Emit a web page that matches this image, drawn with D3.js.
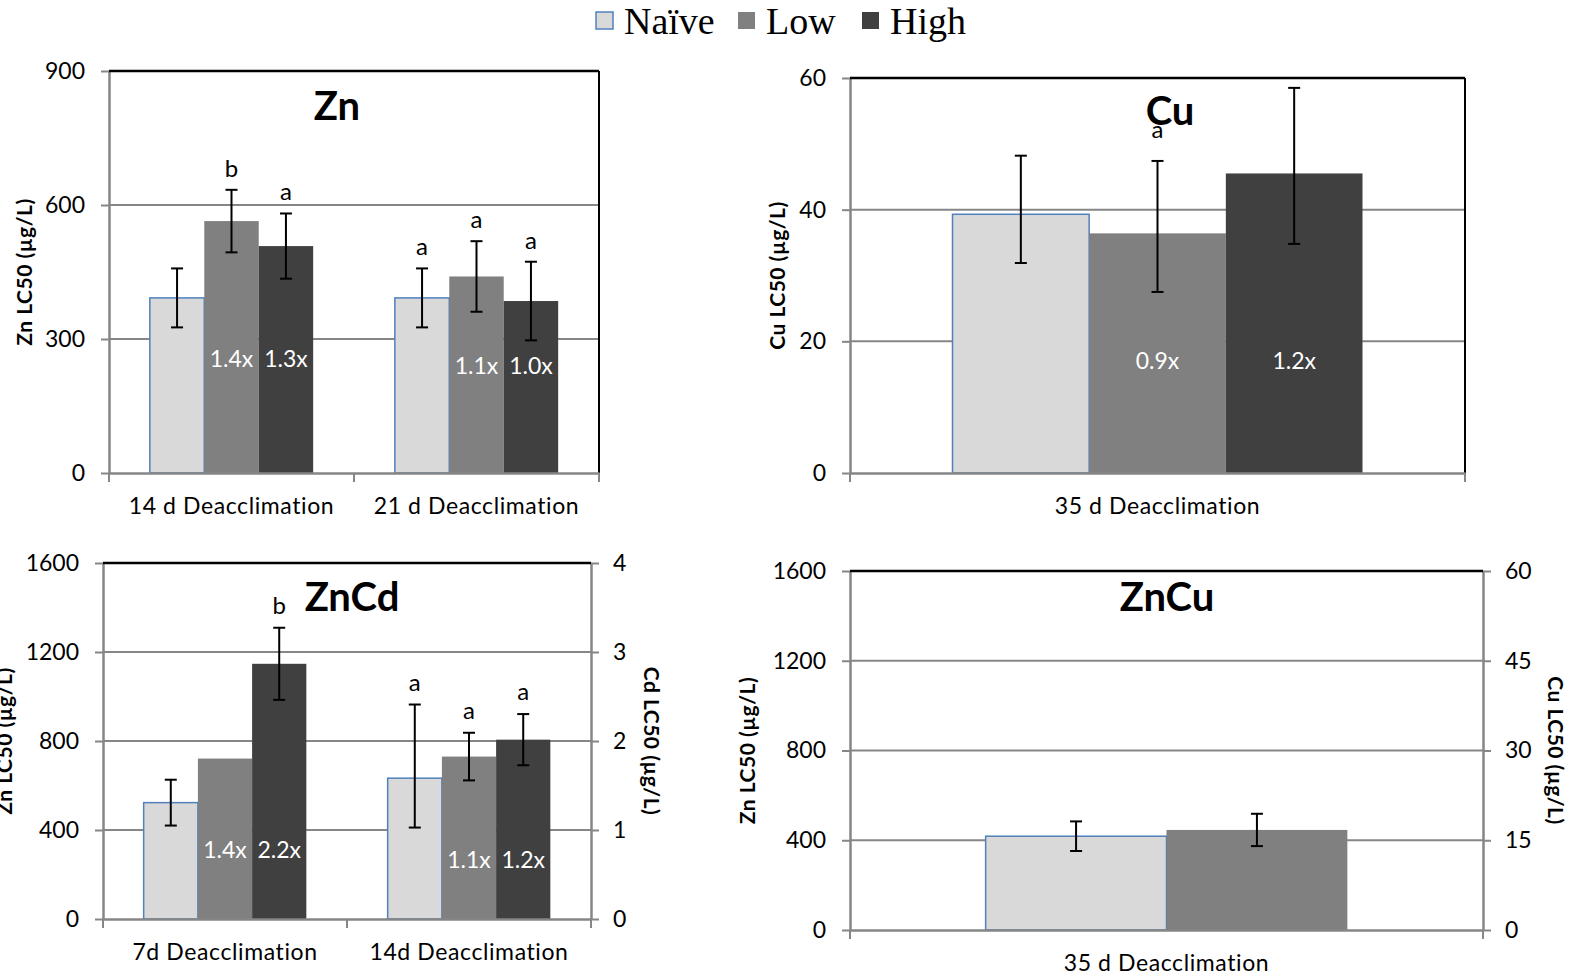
<!DOCTYPE html>
<html>
<head>
<meta charset="utf-8">
<script src="https://cdn.jsdelivr.net/npm/d3@7"></script>
<style>
  body { margin: 0; background: #fff; }
  svg { display: block; }
  text { font-family: Lato, "Open Sans", sans-serif; }
</style>
</head>
<body>
<svg id="fig" width="1577" height="978"></svg>
<script>
// ---- data ----
var seriesNames = ["Naïve", "Low", "High"];

// Zn
var znCats = ["14 d Deacclimation", "21 d Deacclimation"];
var znTicks = [0, 300, 600, 900];
var znNaive = [392, 392], znLow = [564, 440], znHigh = [508, 385];
var znNaiveErr = [66, 66], znLowErr = [70, 79], znHighErr = [73, 88];
var znNaiveLet = ["", "a"], znLowLet = ["b", "a"], znHighLet = ["a", "a"];
var znLowFold = ["1.4x", "1.1x"], znHighFold = ["1.3x", "1.0x"];

// Cu  (error bars as [minus, plus])
var cuCats = ["35 d Deacclimation"];
var cuTicks = [0, 20, 40, 60];
var cuNaive = [39.3], cuLow = [36.4], cuHigh = [45.5];
var cuNaiveErr = [[7.4, 8.9]], cuLowErr = [[8.9, 11.0]], cuHighErr = [[10.7, 13.0]];
var cuNaiveLet = [""], cuLowLet = ["a"], cuHighLet = [""];
var cuLowFold = ["0.9x"], cuHighFold = ["1.2x"];

// ZnCd
var zncdCats = ["7d Deacclimation", "14d Deacclimation"];
var zncdTicks = [0, 400, 800, 1200, 1600];
var cdTicks = [0, 1, 2, 3, 4];
var zncdNaive = [523, 633], zncdLow = [721, 730], zncdHigh = [1147, 806];
var zncdNaiveErr = [103, [222, 331]], zncdLowErr = [null, 107], zncdHighErr = [162, 115];
var zncdNaiveLet = ["", "a"], zncdLowLet = ["", "a"], zncdHighLet = ["b", "a"];
var zncdLowFold = ["1.4x", "1.1x"], zncdHighFold = ["2.2x", "1.2x"];

// ZnCu
var zncuCats = ["35 d Deacclimation"];
var zncuTicks = [0, 400, 800, 1200, 1600];
var cuRightTicks = [0, 15, 30, 45, 60];
var zncuNaive = [418], zncuLow = [446];
var zncuNaiveErr = [66], zncuLowErr = [72];

var fills = { "Naïve": "#d9d9d9", "Low": "#808080", "High": "#404040" };
var axisGrey = "#868686";
var fmt = d3.format("d");

var svg = d3.select("#fig");

// legend
var legend = svg.append("g");
var legendX = [596, 738, 862];
seriesNames.forEach(function(s, i) {
  legend.append("rect")
    .attr("x", legendX[i]).attr("y", 12).attr("width", 17).attr("height", 17)
    .attr("fill", fills[s])
    .attr("stroke", s === "Naïve" ? "#4f81bd" : "none").attr("stroke-width", 1.5);
  legend.append("text")
    .attr("x", legendX[i] + 28).attr("y", 34)
    .style("font-family", "'Liberation Serif', 'Times New Roman', serif")
    .style("font-size", "38px")
    .text(s);
});

function errPair(e) {
  if (e == null) return null;
  return Array.isArray(e) ? e : [e, e];
}

function styleAxis(a) {
  a.select(".domain").attr("stroke", axisGrey).attr("stroke-width", 2.5);
  a.selectAll(".tick line").attr("stroke", axisGrey).attr("stroke-width", 2);
  a.selectAll(".tick text").style("font-size", "23px").attr("fill", "#000");
}

function drawPanel(p) {
  var g = svg.append("g");
  var x = d3.scaleBand().domain(p.cats).range([p.x0, p.x1]);
  var y = d3.scaleLinear().domain([0, p.ticks[p.ticks.length - 1]]).range([p.yb, p.yt]);
  var names = p.series.map(function(s) { return s.name; });
  var xs = d3.scaleBand().domain(names).range([0, x.bandwidth()])
    .paddingInner(0).paddingOuter(0.75);

  // gridlines
  g.selectAll(".grid").data(p.ticks.slice(1, -1)).enter().append("line")
    .attr("x1", p.x0).attr("x2", p.x1)
    .attr("y1", function(d) { return y(d); }).attr("y2", function(d) { return y(d); })
    .attr("stroke", axisGrey).attr("stroke-width", 2);

  // bars
  p.series.forEach(function(s) {
    g.selectAll(null).data(s.values).enter().append("rect")
      .attr("x", function(d, i) { return x(p.cats[i]) + xs(s.name); })
      .attr("width", xs.bandwidth())
      .attr("y", function(d) { return y(d); })
      .attr("height", function(d) { return y(0) - y(d); })
      .attr("fill", fills[s.name])
      .attr("stroke", s.name === "Naïve" ? "#4f81bd" : "none")
      .attr("stroke-width", 1.5);
  });

  // error bars, letters, fold labels
  p.series.forEach(function(s) {
    s.values.forEach(function(v, i) {
      var cx = x(p.cats[i]) + xs(s.name) + xs.bandwidth() / 2;
      var e = errPair(s.err[i]);
      var topVal = v;
      if (e) {
        var lo = y(v - e[0]), hi = y(v + e[1]);
        topVal = v + e[1];
        g.append("line").attr("x1", cx).attr("x2", cx).attr("y1", lo).attr("y2", hi)
          .attr("stroke", "#000").attr("stroke-width", 2);
        [lo, hi].forEach(function(yy) {
          g.append("line").attr("x1", cx - 6).attr("x2", cx + 6).attr("y1", yy).attr("y2", yy)
            .attr("stroke", "#000").attr("stroke-width", 2);
        });
      }
      if (s.letters && s.letters[i]) {
        g.append("text").attr("x", cx).attr("y", y(topVal) - p.letterGap)
          .attr("text-anchor", "middle").style("font-size", "24px")
          .text(s.letters[i]);
      }
      if (s.fold && s.fold[i]) {
        g.append("text").attr("x", cx).attr("y", p.yb - p.foldOffset[i])
          .attr("dy", "0.35em").attr("text-anchor", "middle")
          .attr("fill", "#fff").style("font-size", "23px")
          .text(s.fold[i]);
      }
    });
  });

  // left axis
  var ax = g.append("g").attr("transform", "translate(" + p.x0 + ",0)")
    .call(d3.axisLeft(y).tickValues(p.ticks).tickFormat(fmt).tickSize(8).tickSizeOuter(0).tickPadding(16));
  styleAxis(ax);

  // right axis or black border
  if (p.rightTicks) {
    var r = d3.scaleLinear().domain([0, p.rightTicks[p.rightTicks.length - 1]]).range([p.yb, p.yt]);
    var ar = g.append("g").attr("transform", "translate(" + p.x1 + ",0)")
      .call(d3.axisRight(r).tickValues(p.rightTicks).tickFormat(fmt).tickSize(8).tickSizeOuter(0).tickPadding(14));
    styleAxis(ar);
  } else {
    g.append("line").attr("x1", p.x1).attr("x2", p.x1).attr("y1", p.yt).attr("y2", p.yb)
      .attr("stroke", "#000").attr("stroke-width", 2);
  }
  g.append("line").attr("x1", p.x0).attr("x2", p.x1).attr("y1", p.yt).attr("y2", p.yt)
    .attr("stroke", "#000").attr("stroke-width", 2.5);

  // bottom axis
  var bx = g.append("g").attr("transform", "translate(0," + p.yb + ")")
    .call(d3.axisBottom(x).tickSize(0).tickSizeOuter(0).tickPadding(25));
  styleAxis(bx);
  bx.selectAll(".tick text").style("letter-spacing", "0.6px");
  var edges = p.cats.map(function(c) { return x(c); }).concat([p.x1]);
  g.selectAll(null).data(edges).enter().append("line")
    .attr("x1", function(d) { return d; }).attr("x2", function(d) { return d; })
    .attr("y1", p.yb).attr("y2", p.yb + 9)
    .attr("stroke", axisGrey).attr("stroke-width", 2);

  // panel title
  g.append("text").attr("x", p.titleX).attr("y", p.titleY).attr("dy", "0.35em")
    .attr("text-anchor", "middle").style("font-size", "40px").style("font-weight", "bold")
    .text(p.title);

  // axis titles
  var midY = (p.yb + p.yt) / 2;
  g.append("text").attr("transform", "translate(" + p.leftLabelX + "," + midY + ") rotate(-90)")
    .attr("text-anchor", "middle").style("font-size", "21px").style("font-weight", "bold")
    .style("letter-spacing", "0.5px")
    .text(p.leftLabel);
  if (p.rightLabel) {
    g.append("text").attr("transform", "translate(" + p.rightLabelX + "," + midY + ") rotate(90)")
      .attr("text-anchor", "middle").style("font-size", "21px").style("font-weight", "bold")
      .style("letter-spacing", "0.5px")
      .text(p.rightLabel);
  }
}

drawPanel({
  cats: znCats, ticks: znTicks, x0: 109, x1: 599, yt: 71, yb: 473,
  series: [
    { name: "Naïve", values: znNaive, err: znNaiveErr, letters: znNaiveLet },
    { name: "Low", values: znLow, err: znLowErr, letters: znLowLet, fold: znLowFold },
    { name: "High", values: znHigh, err: znHighErr, letters: znHighLet, fold: znHighFold }
  ],
  letterGap: 13, foldOffset: [114, 107],
  title: "Zn", titleX: 337, titleY: 106,
  leftLabel: "Zn LC50 (µg/L)", leftLabelX: 32
});

drawPanel({
  cats: cuCats, ticks: cuTicks, x0: 850, x1: 1465, yt: 78, yb: 473,
  series: [
    { name: "Naïve", values: cuNaive, err: cuNaiveErr, letters: cuNaiveLet },
    { name: "Low", values: cuLow, err: cuLowErr, letters: cuLowLet, fold: cuLowFold },
    { name: "High", values: cuHigh, err: cuHighErr, letters: cuHighLet, fold: cuHighFold }
  ],
  letterGap: 23, foldOffset: [112],
  title: "Cu", titleX: 1170, titleY: 111,
  leftLabel: "Cu LC50 (µg/L)", leftLabelX: 785
});

drawPanel({
  cats: zncdCats, ticks: zncdTicks, rightTicks: cdTicks, x0: 103, x1: 591, yt: 563, yb: 919,
  series: [
    { name: "Naïve", values: zncdNaive, err: zncdNaiveErr, letters: zncdNaiveLet },
    { name: "Low", values: zncdLow, err: zncdLowErr, letters: zncdLowLet, fold: zncdLowFold },
    { name: "High", values: zncdHigh, err: zncdHighErr, letters: zncdHighLet, fold: zncdHighFold }
  ],
  letterGap: 14, foldOffset: [69, 59],
  title: "ZnCd", titleX: 352, titleY: 597,
  leftLabel: "Zn LC50 (µg/L)", leftLabelX: 12,
  rightLabel: "Cd LC50 (µg/L)", rightLabelX: 644
});

drawPanel({
  cats: zncuCats, ticks: zncuTicks, rightTicks: cuRightTicks, x0: 850, x1: 1483, yt: 571, yb: 930,
  series: [
    { name: "Naïve", values: zncuNaive, err: zncuNaiveErr },
    { name: "Low", values: zncuLow, err: zncuLowErr }
  ],
  letterGap: 14, foldOffset: [0],
  title: "ZnCu", titleX: 1167, titleY: 597,
  leftLabel: "Zn LC50 (µg/L)", leftLabelX: 755,
  rightLabel: "Cu LC50 (µg/L)", rightLabelX: 1548
});
</script>
</body>
</html>
